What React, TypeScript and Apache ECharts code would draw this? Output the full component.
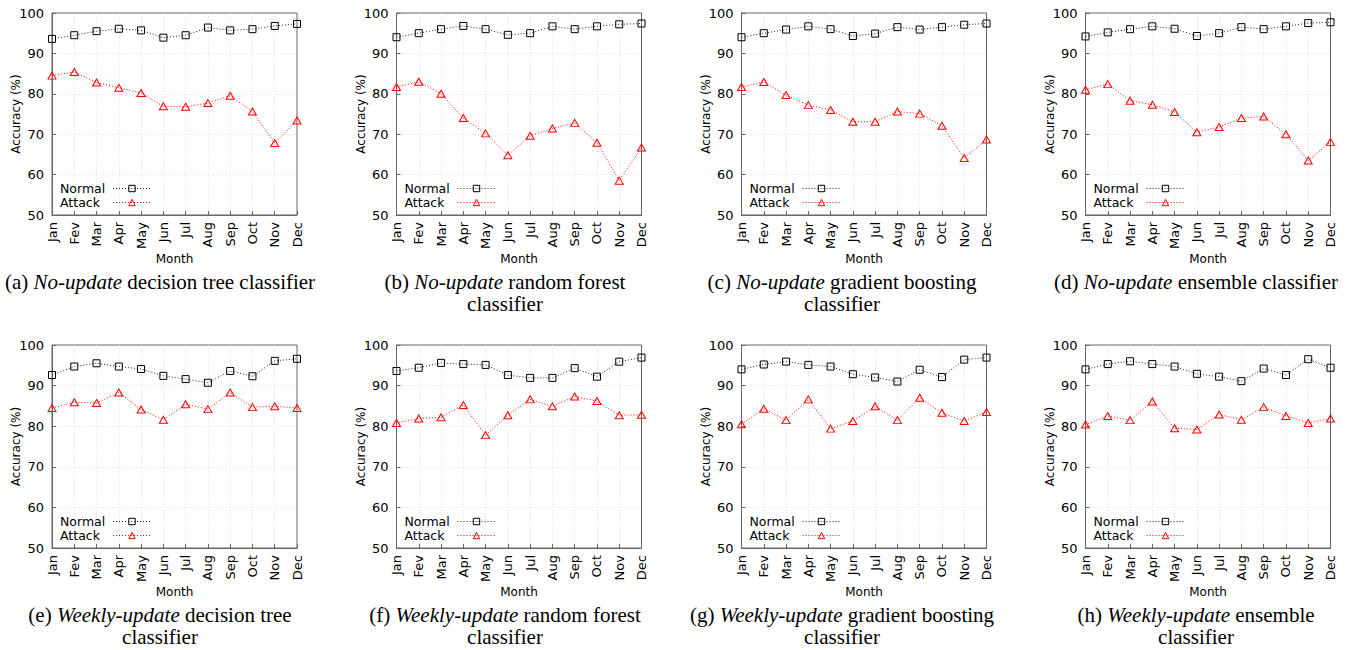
import React, { useEffect, useRef } from 'react';
import * as echarts from 'echarts';

const months = ['Jan', 'Fev', 'Mar', 'Apr', 'May', 'Jun', 'Jul', 'Aug', 'Sep', 'Oct', 'Nov', 'Dec'];
const yTicks = [50, 60, 70, 80, 90, 100];

// (a) No-update decision tree
const noUpdDTNormal = [93.6, 94.5, 95.5, 96.1, 95.7, 93.9, 94.5, 96.4, 95.7, 96.0, 96.8, 97.3];
const noUpdDTAttack = [84.5, 85.4, 82.8, 81.5, 80.2, 76.9, 76.8, 77.7, 79.5, 75.6, 67.8, 73.4];
// (b) No-update random forest
const noUpdRFNormal = [94.0, 95.0, 96.0, 96.8, 96.0, 94.6, 95.0, 96.7, 96.0, 96.7, 97.2, 97.4];
const noUpdRFAttack = [81.7, 83.0, 80.0, 74.0, 70.2, 64.8, 69.6, 71.4, 72.8, 67.9, 58.5, 66.7];
// (c) No-update gradient boosting
const noUpdGBNormal = [94.0, 95.0, 95.9, 96.7, 96.0, 94.3, 94.9, 96.5, 95.9, 96.5, 97.1, 97.4];
const noUpdGBAttack = [81.7, 82.9, 79.7, 77.2, 76.0, 73.1, 73.1, 75.6, 75.1, 72.1, 64.1, 68.7];
// (d) No-update ensemble
const noUpdENNormal = [94.2, 95.2, 96.0, 96.7, 96.1, 94.3, 95.0, 96.5, 96.0, 96.7, 97.5, 97.7];
const noUpdENAttack = [81.0, 82.4, 78.3, 77.3, 75.5, 70.5, 71.8, 74.0, 74.4, 70.0, 63.5, 68.1];
// (e) Weekly-update decision tree
const wkDTNormal = [92.6, 94.7, 95.5, 94.7, 94.1, 92.4, 91.6, 90.7, 93.6, 92.3, 96.1, 96.6];
const wkDTAttack = [84.5, 85.9, 85.7, 88.3, 84.1, 81.6, 85.4, 84.2, 88.3, 84.7, 84.9, 84.5];
// (f) Weekly-update random forest
const wkRFNormal = [93.6, 94.4, 95.6, 95.3, 95.1, 92.6, 91.9, 91.9, 94.3, 92.2, 95.9, 96.9];
const wkRFAttack = [80.8, 81.9, 82.2, 85.2, 77.8, 82.7, 86.6, 84.9, 87.3, 86.2, 82.7, 82.8];
// (g) Weekly-update gradient boosting
const wkGBNormal = [94.0, 95.2, 95.9, 95.1, 94.7, 92.8, 92.0, 91.0, 93.9, 92.1, 96.4, 96.9];
const wkGBAttack = [80.5, 84.3, 81.5, 86.6, 79.4, 81.3, 84.9, 81.5, 87.0, 83.3, 81.3, 83.5];
// (h) Weekly-update ensemble
const wkENNormal = [94.0, 95.3, 96.0, 95.3, 94.7, 92.9, 92.2, 91.1, 94.2, 92.6, 96.5, 94.4];
const wkENAttack = [80.4, 82.5, 81.5, 86.1, 79.5, 79.2, 82.9, 81.6, 84.7, 82.5, 80.8, 81.9];

const normalSets = [noUpdDTNormal, noUpdRFNormal, noUpdGBNormal, noUpdENNormal, wkDTNormal, wkRFNormal, wkGBNormal, wkENNormal];
const attackSets = [noUpdDTAttack, noUpdRFAttack, noUpdGBAttack, noUpdENAttack, wkDTAttack, wkRFAttack, wkGBAttack, wkENAttack];

const captions = [
  '(a) {i|No-update} decision tree classifier',
  '(b) {i|No-update} random forest\nclassifier',
  '(c) {i|No-update} gradient boosting\nclassifier',
  '(d) {i|No-update} ensemble classifier',
  '(e) {i|Weekly-update} decision tree\nclassifier',
  '(f) {i|Weekly-update} random forest\nclassifier',
  '(g) {i|Weekly-update} gradient boosting\nclassifier',
  '(h) {i|Weekly-update} ensemble\nclassifier',
];

const gridLefts = [52, 396.5, 741.5, 1085.5];
const gridWidth = 245;
const rowTops = [13, 345];
const rowHeights = [202, 203];
const captionX = [160, 505, 842, 1196];
const captionTop = [271, 604];

const SANS = 'DejaVu Sans';
const SERIF = 'Liberation Serif';
const FRAME = '#666';
const TEXT = '#000';
const GRIDLINE = '#e0e0e0';

function buildOption() {
  const grid: any[] = [];
  const xAxis: any[] = [];
  const yAxis: any[] = [];
  const series: any[] = [];
  const legend: any[] = [];
  const graphic: any[] = [];

  for (let i = 0; i < 8; i++) {
    const row = Math.floor(i / 4);
    const col = i % 4;
    const left = gridLefts[col];
    const top = rowTops[row];
    const height = rowHeights[row];
    grid.push({ left, top, width: gridWidth, height, show: true, borderColor: FRAME, borderWidth: 1 });
    xAxis.push({
      type: 'category',
      gridIndex: i,
      data: months,
      boundaryGap: false,
      name: 'Month',
      nameLocation: 'middle',
      nameGap: 38,
      nameMoveOverlap: false,
      nameTextStyle: { fontSize: 12, color: TEXT, fontFamily: SANS },
      axisLine: { show: true, lineStyle: { color: FRAME } },
      axisTick: { show: true, inside: true, length: 4, lineStyle: { color: FRAME } },
      axisLabel: { rotate: 90, fontSize: 13, color: TEXT, margin: 7, interval: 0, fontFamily: SANS },
      splitLine: { show: true, showMinLine: false, showMaxLine: false, lineStyle: { color: GRIDLINE, type: [1, 2] } },
    });
    yAxis.push({
      type: 'value',
      gridIndex: i,
      min: yTicks[0],
      max: yTicks[yTicks.length - 1],
      interval: 10,
      name: 'Accuracy (%)',
      nameLocation: 'middle',
      nameGap: 30,
      nameMoveOverlap: false,
      nameTextStyle: { fontSize: 12, color: TEXT, fontFamily: SANS },
      axisLine: { show: true, lineStyle: { color: FRAME } },
      axisTick: { show: true, inside: true, length: 4, lineStyle: { color: FRAME } },
      axisLabel: { fontSize: 13, color: TEXT, margin: 8, fontFamily: SANS },
      splitLine: { show: true, showMinLine: false, showMaxLine: false, lineStyle: { color: GRIDLINE, type: [1, 2] } },
    });
    series.push({
      type: 'line',
      name: 'Normal',
      xAxisIndex: i,
      yAxisIndex: i,
      data: normalSets[i],
      symbol: 'rect',
      symbolSize: 7,
      lineStyle: { color: '#222', width: 1, type: [1, 2] },
      itemStyle: { color: 'rgba(255,255,255,0)', borderColor: '#000', borderWidth: 1 },
      z: 3,
    });
    series.push({
      type: 'line',
      name: 'Attack',
      xAxisIndex: i,
      yAxisIndex: i,
      data: attackSets[i],
      symbol: 'triangle',
      symbolSize: [8, 7],
      lineStyle: { color: '#ff0000', width: 1, type: [1, 2] },
      itemStyle: { color: 'rgba(255,255,255,0)', borderColor: '#ff0000', borderWidth: 1 },
      z: 2,
    });
    legend.push({
      data: ['Normal', 'Attack'],
      orient: 'vertical',
      left: left + 8,
      top: top + height - 33,
      align: 'right',
      itemWidth: 38,
      itemHeight: 8,
      itemGap: 1,
      padding: 0,
      selectedMode: false,
      itemStyle: { borderWidth: 1, color: 'rgba(255,255,255,0)' },
      lineStyle: { width: 1 },
      formatter: '{t|{name}}',
      textStyle: {
        fontSize: 12,
        color: TEXT,
        fontFamily: SANS,
        rich: { t: { width: 48, align: 'left', fontSize: 12.5, lineHeight: 14, fontFamily: SANS, color: TEXT } },
      },
    });
    graphic.push({
      type: 'text',
      x: captionX[col],
      y: captionTop[row],
      style: {
        text: captions[i],
        fontFamily: SERIF,
        fontSize: 21,
        lineHeight: 22,
        fill: '#000',
        align: 'center',
        verticalAlign: 'top',
        rich: { i: { fontStyle: 'italic', fontFamily: SERIF, fontSize: 21, lineHeight: 22 } },
      },
    });
  }

  return { animation: false, backgroundColor: '#fff', grid, xAxis, yAxis, series, legend, graphic };
}

export default function App() {
  const ref = useRef<HTMLDivElement>(null);
  useEffect(() => {
    const chart = echarts.init(ref.current!, null, { renderer: 'svg' });
    chart.setOption(buildOption());
    return () => chart.dispose();
  }, []);
  return <div ref={ref} style={{ position: 'absolute', left: 0, top: 0, width: 1355, height: 650 }} />;
}
